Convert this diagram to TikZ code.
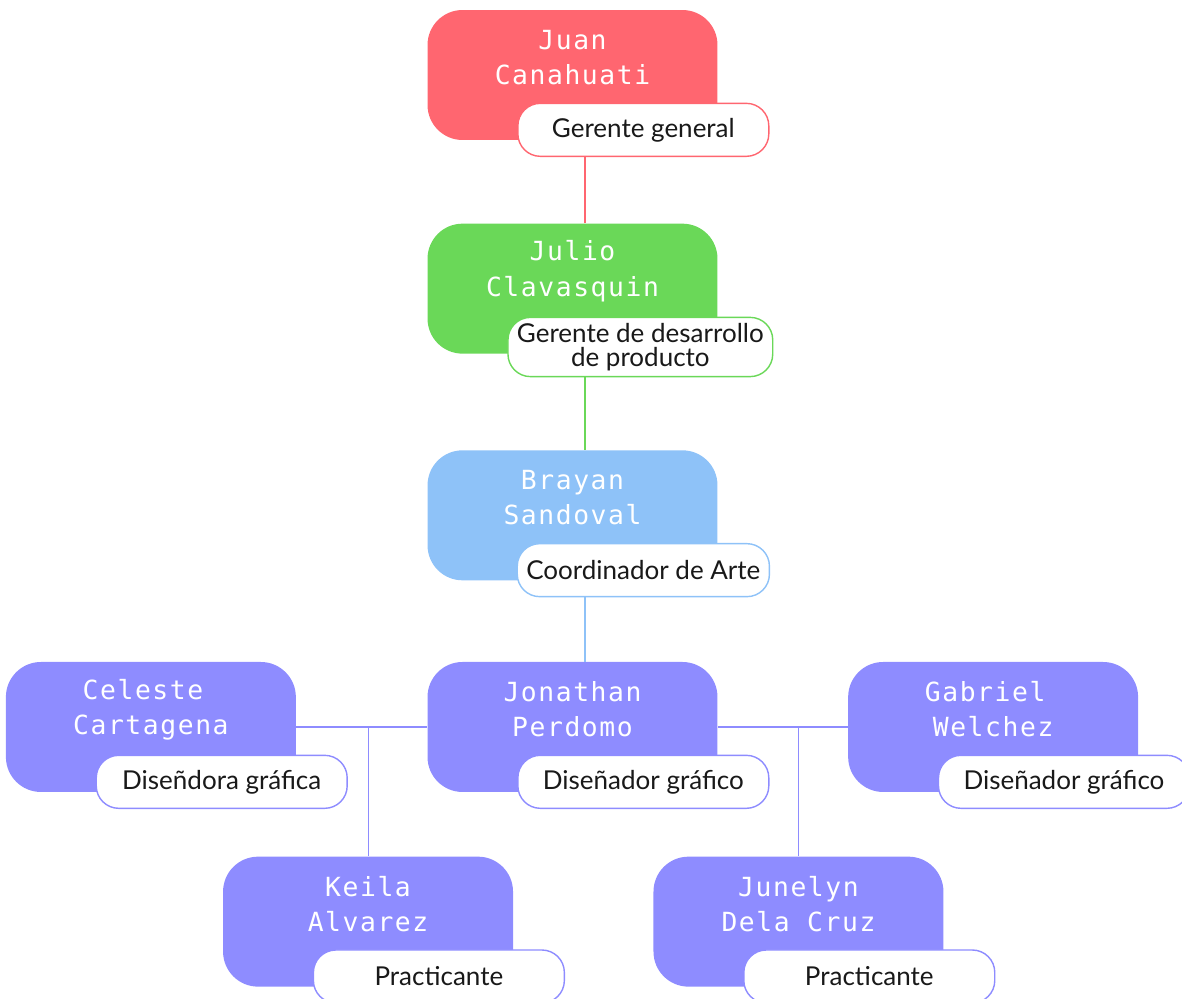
\documentclass[tikz,border=0pt]{standalone}
\usepackage{fontspec}
\setmainfont{Lato}
\newfontfamily\namefont[LetterSpace=6]{DejaVu Sans Mono}
\usetikzlibrary{positioning}
\definecolor{jred}{RGB}{255,102,112}
\definecolor{jgreen}{RGB}{106,216,88}
\definecolor{jblue}{RGB}{142,194,248}
\definecolor{jpurple}{RGB}{142,140,255}
\tikzset{%
  person/.style={
    rectangle,
    rounded corners=0.7cm,
    minimum width=5.8cm,
    minimum height=2.6cm,
    inner sep=0pt
  },
  who/.style={
    text=white,
    align=center,
    inner sep=0pt,
    font=\namefont\fontsize{15}{20}\selectfont
  },
  role/.style={
    rectangle,
    rounded corners=0.45cm,
    draw,
    fill=white,
    line width=0.8pt,
    minimum width=5.02cm,
    minimum height=1.06cm,
    inner xsep=0.18cm,
    align=center,
    text=black!90,
    font=\fontsize{14.8}{13.6}\selectfont
  },
  link/.style={line width=0.6pt}
}

\begin{document}
\begin{tikzpicture}[x=0.02cm, y=-0.02cm]
		\useasboundingbox (0,0) rectangle (1182,999);
		%% boxes
		\node[person, fill=jred] (juan) at (572.5,75) {};
		\node[person, fill=jgreen, below=1.66cm of juan] (julio) {};
		\node[person, fill=jblue, below=1.92cm of julio] (brayan) {};
		\node[person, fill=jpurple, below=1.62cm of brayan] (jonathan) {};
		\node[person, fill=jpurple, left=2.62cm of jonathan] (celeste) {};
		\node[person, fill=jpurple, right=2.6cm of jonathan] (gabriel) {};
		\node[person, fill=jpurple, xshift=-4.09cm, below=1.28cm of jonathan] (keila) {};
		\node[person, fill=jpurple, xshift=4.52cm, below=1.28cm of jonathan] (junelyn) {};
		%% names
		\node[who] (juanN) at ([yshift=0.35cm]juan.center) {Juan\\Canahuati};
		\node[who] (julioN) at ([yshift=0.35cm]julio.center) {Julio\\Clavasquin};
		\node[who] (brayanN) at ([yshift=0.35cm]brayan.center) {Brayan\\Sandoval};
		\node[who] (jonathanN) at ([yshift=0.35cm]jonathan.center) {Jonathan\\Perdomo};
		\node[who] (celesteN) at ([yshift=0.35cm]celeste.center) {Celeste\phantom{x}\\Cartagena};
		\node[who] (gabrielN) at ([yshift=0.35cm]gabriel.center) {Gabriel\phantom{x}\\Welchez};
		\node[who] (keilaN) at ([yshift=0.35cm]keila.center) {Keila\\Alvarez};
		\node[who] (junelynN) at ([yshift=0.35cm]junelyn.center) {Junelyn\\Dela Cruz};
		%% roles
		\node[role, draw=jred] (juanR) at ([xshift=-1.49cm, yshift=0.21cm]juan.south east) {Gerente general};
		\node[role, draw=jgreen] (julioR) at ([xshift=-1.55cm, yshift=0.14cm]julio.south east) {Gerente de desarrollo\\de producto};
		\node[role, draw=jblue] (brayanR) at ([xshift=-1.49cm, yshift=0.21cm]brayan.south east) {Coordinador de Arte};
		\node[role, draw=jpurple] (jonathanR) at ([xshift=-1.49cm, yshift=0.21cm]jonathan.south east) {Diseñador gráfico};
		\node[role, draw=jpurple] (celesteR) at ([xshift=-1.49cm, yshift=0.21cm]celeste.south east) {Diseñdora gráfica};
		\node[role, draw=jpurple] (gabrielR) at ([xshift=-1.49cm, yshift=0.21cm]gabriel.south east) {Diseñador gráfico};
		\node[role, draw=jpurple] (keilaR) at ([xshift=-1.49cm, yshift=0.21cm]keila.south east) {Practicante};
		\node[role, draw=jpurple] (junelynR) at ([xshift=-1.49cm, yshift=0.21cm]junelyn.south east) {Practicante};
		%% connections
		\draw[link, jred] ([xshift=0.25cm]julio.north) -- ([xshift=0.25cm]julio.north |- juanR.south);
		\draw[link, jgreen] ([xshift=0.25cm]brayan.north) -- ([xshift=0.25cm]brayan.north |- julioR.south);
		\draw[link, jblue] ([xshift=0.25cm]jonathan.north) -- ([xshift=0.25cm]jonathan.north |- brayanR.south);
		\draw[link, jpurple] (celeste.east) -- (jonathan.west);
		\draw[link, jpurple] (jonathan.east) -- (gabriel.west);
		\draw[link, jpurple] (keila.north) -- (keila.north |- jonathan.center);
		\draw[link, jpurple] (junelyn.north) -- (junelyn.north |- jonathan.center);
	\end{tikzpicture}
\end{document}
